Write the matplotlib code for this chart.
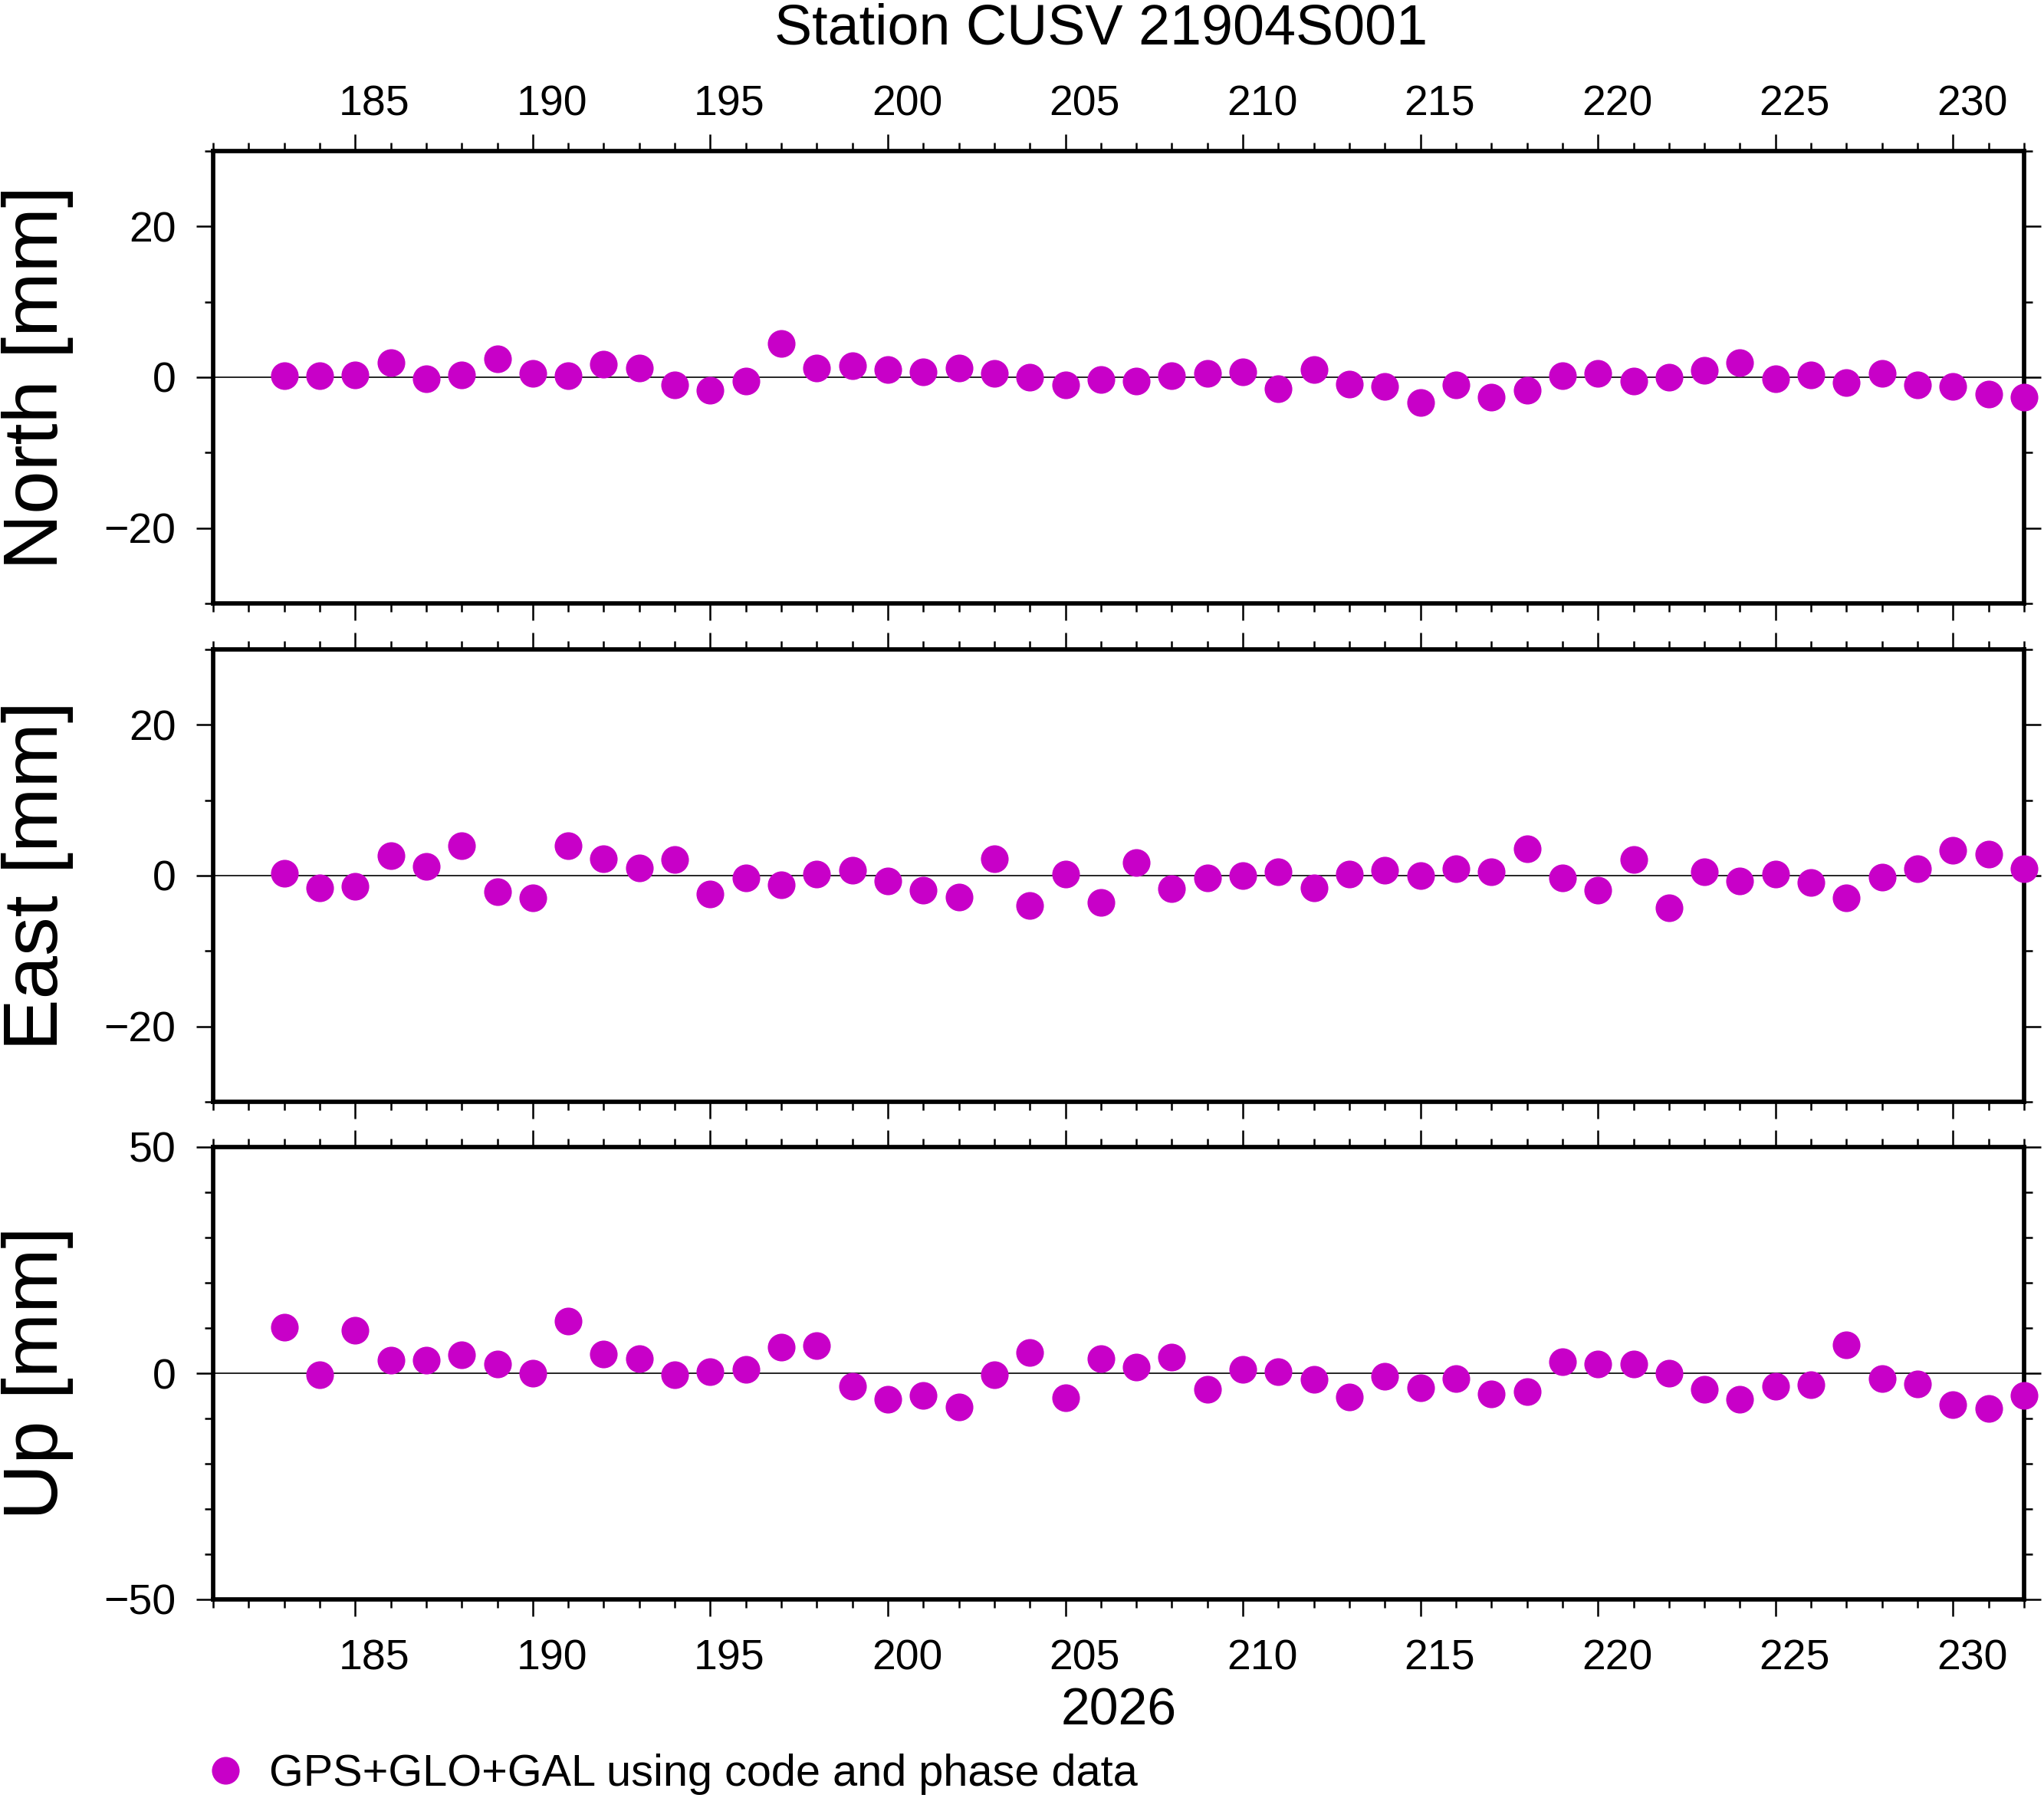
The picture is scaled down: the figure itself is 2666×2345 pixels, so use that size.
import matplotlib
matplotlib.use('Agg')
import matplotlib.pyplot as plt
from matplotlib.ticker import MultipleLocator

plt.rcParams['font.family'] = ['Liberation Sans', 'DejaVu Sans']

# day of year 2026
days = list(range(183, 233))

north = [0.2, 0.2, 0.3, 1.9, -0.2, 0.3, 2.4, 0.5, 0.2, 1.7,
         1.2, -1.0, -1.7, -0.5, 4.5, 1.2, 1.5, 1.0, 0.7, 1.2,
         0.5, 0.0, -1.0, -0.3, -0.5, 0.2, 0.5, 0.7, -1.5, 1.0,
         -0.9, -1.2, -3.4, -1.0, -2.6, -1.7, 0.2, 0.5, -0.5, 0.0,
         0.9, 1.9, -0.2, 0.3, -0.7, 0.5, -1.0, -1.2, -2.2, -2.6]

east = [0.3, -1.6, -1.4, 2.6, 1.2, 4.0, -2.1, -2.9, 4.0, 2.2,
        1.0, 2.1, -2.4, -0.3, -1.2, 0.2, 0.7, -0.7, -1.9, -2.8,
        2.2, -4.0, 0.2, -3.6, 1.7, -1.7, -0.3, 0.0, 0.5, -1.6,
        0.2, 0.7, 0.0, 0.9, 0.5, 3.6, -0.3, -1.9, 2.1, -4.3,
        0.5, -0.7, 0.2, -0.9, -2.9, -0.2, 0.9, 3.4, 2.8, 0.9]

up = [10.1, -0.3, 9.5, 2.9, 2.9, 4.0, 2.0, 0.0, 11.5, 4.3,
      3.2, -0.3, 0.3, 0.9, 5.8, 6.1, -2.9, -5.8, -4.9, -7.5,
      -0.3, 4.6, -5.5, 3.2, 1.4, 3.5, -3.5, 0.9, 0.3, -1.4,
      -5.2, -0.6, -3.2, -1.2, -4.6, -4.0, 2.6, 2.0, 2.0, 0.0,
      -3.5, -5.8, -2.9, -2.6, 6.3, -1.2, -2.3, -6.9, -7.8, -4.9]

panels = [('North [mm]', north, 30, 20),
          ('East [mm]', east, 30, 20),
          ('Up [mm]', up, 50, 50)]
day_labels = list(range(185, 231, 5))
title = 'Station CUSV 21904S001'
year = '2026'
legend_text = 'GPS+GLO+GAL using code and phase data'
color = '#c800c8'

W, H = 2666, 2345
fig = plt.figure(figsize=(W / 100, H / 100), dpi=100)
left, right = 278, 2640
boxes = [(197, 787), (847, 1437), (1496, 2086)]

axes = []
for i, ((name, vals, lim, major), (top, bot)) in enumerate(zip(panels, boxes)):
    ax = fig.add_axes([left / W, 1 - bot / H, (right - left) / W, (bot - top) / H])
    ax.axhline(0, color='black', lw=1.2, zorder=1)
    line, = ax.plot(days, vals, 'o', ms=26, color=color, mec='none',
                    clip_on=False, zorder=3)
    ax.set_xlim(181, 232)
    ax.set_ylim(-lim, lim)
    ax.xaxis.set_major_locator(MultipleLocator(5))
    ax.xaxis.set_minor_locator(MultipleLocator(1))
    ax.yaxis.set_major_locator(MultipleLocator(major))
    ax.yaxis.set_minor_locator(MultipleLocator(10))
    ax.tick_params(which='both', direction='out', top=True, right=True,
                   labelbottom=False, labeltop=False, width=1.8, color='black')
    ax.tick_params(which='major', length=16, labelsize=40, pad=19)
    ax.tick_params(which='minor', length=8)
    for s in ax.spines.values():
        s.set_linewidth(4.1)
    fig.text(2 / W, 1 - (top + bot) / 2 / H, name, rotation=90,
             ha='left', va='center', fontsize=73)

    # day labels sit in the middle of each day interval
    if i == 0:
        sec = ax.secondary_xaxis('top')
        sec.set_xticks([d + 0.54 for d in day_labels], labels=[str(d) for d in day_labels])
        sec.tick_params(length=0, labelsize=40, pad=25)
        sec.spines['top'].set_visible(False)
    if i == 2:
        sec = ax.secondary_xaxis('bottom')
        sec.set_xticks([d + 0.54 for d in day_labels], labels=[str(d) for d in day_labels])
        sec.tick_params(length=0, labelsize=40, pad=37)
        sec.spines['bottom'].set_visible(False)
    axes.append(ax)

fig.text(1436 / W, 1 - 57 / H, title, ha='center', va='baseline', fontsize=53)
fig.text((left + right) / 2 / W, 1 - 2250 / H, year, ha='center',
         va='baseline', fontsize=49)

fig.legend(handles=[line], labels=[legend_text], loc='center left',
           bbox_to_anchor=(276 / W, 1 - 2314 / H), frameon=False,
           fontsize=41.5, handlelength=0.62, handletextpad=0.68,
           borderpad=0, borderaxespad=0, numpoints=1)

fig.savefig('out.png', dpi=100)
